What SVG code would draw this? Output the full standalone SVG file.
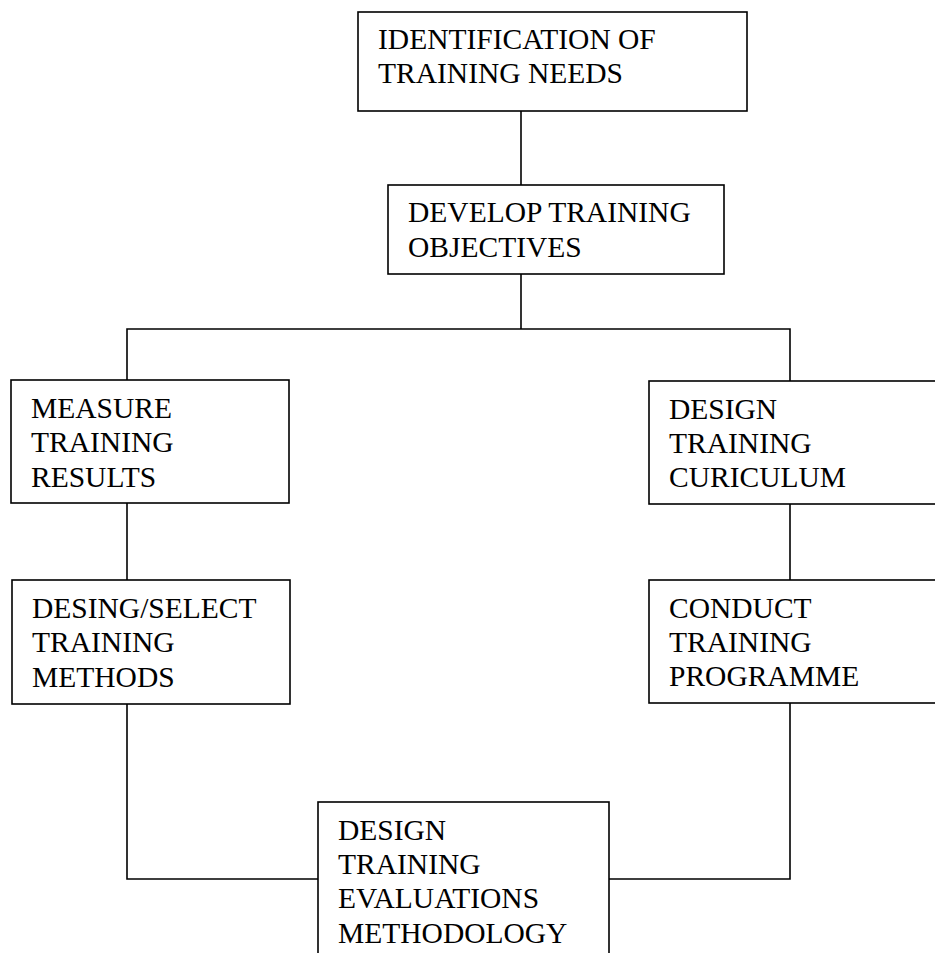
<svg xmlns="http://www.w3.org/2000/svg" width="935" height="953" viewBox="0 0 935 953">
<style>
.box{fill:#fff;stroke:#000;stroke-width:1.6}
.t{font-family:"Liberation Serif","Times New Roman",serif;font-size:29.5px;fill:#000}
.c{fill:none;stroke:#000;stroke-width:1.6}
</style>
<rect width="935" height="953" fill="#fff"/>
<g id="connectors">
<path class="c" d="M521 111V185"/>
<path class="c" d="M521 274V329"/>
<path class="c" d="M127 380V329H790V381"/>
<path class="c" d="M127 503V580"/>
<path class="c" d="M790 504V580"/>
<path class="c" d="M127 704V879H318"/>
<path class="c" d="M790 703V879H609"/>
</g>
<g id="n1"><rect class="box" x="358" y="12" width="389" height="99"/>
<text class="t" x="378" y="49">IDENTIFICATION OF</text><text class="t" x="378" y="83">TRAINING NEEDS</text></g>
<g id="n2"><rect class="box" x="388" y="185" width="336" height="89"/>
<text class="t" x="408" y="222">DEVELOP TRAINING</text><text class="t" x="408" y="257">OBJECTIVES</text></g>
<g id="n3"><rect class="box" x="11" y="380" width="278" height="123"/>
<text class="t" x="31" y="418">MEASURE</text><text class="t" x="31" y="452">TRAINING</text><text class="t" x="31" y="487">RESULTS</text></g>
<g id="n4"><rect class="box" x="649" y="381" width="300" height="123"/>
<text class="t" x="669" y="419">DESIGN</text><text class="t" x="669" y="453">TRAINING</text><text class="t" x="669" y="487">CURICULUM</text></g>
<g id="n5"><rect class="box" x="12" y="580" width="278" height="124"/>
<text class="t" x="32" y="618">DESING/SELECT</text><text class="t" x="32" y="652">TRAINING</text><text class="t" x="32" y="687">METHODS</text></g>
<g id="n6"><rect class="box" x="649" y="580" width="300" height="123"/>
<text class="t" x="669" y="618">CONDUCT</text><text class="t" x="669" y="652">TRAINING</text><text class="t" x="669" y="686">PROGRAMME</text></g>
<g id="n7"><rect class="box" x="318" y="802" width="291" height="170"/>
<text class="t" x="338" y="840">DESIGN</text><text class="t" x="338" y="874">TRAINING</text><text class="t" x="338" y="908">EVALUATIONS</text><text class="t" x="338" y="943">METHODOLOGY</text></g>
</svg>
